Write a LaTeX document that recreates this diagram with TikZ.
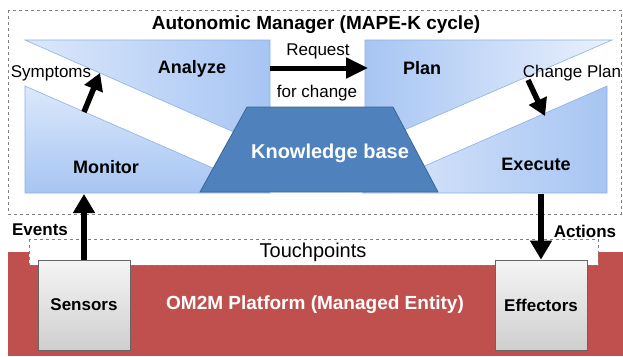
\documentclass[tikz,border=0pt]{standalone}
\usepackage{fontspec}
\setmainfont{Liberation Sans}
\usetikzlibrary{arrows.meta,shapes,calc,positioning}

\definecolor{paleblue}{HTML}{DCE8FB}
\definecolor{midblue}{HTML}{A7C5F3}
\definecolor{edgeblue}{HTML}{8EB1E0}
\definecolor{kbfill}{HTML}{4F81BD}
\definecolor{kbedge}{HTML}{3B6595}
\definecolor{platred}{HTML}{C0504D}

\tikzset{
  stage/.style={draw=edgeblue,line width=0.6pt},
  bold/.style={font=\bfseries\fontsize{18}{20}\selectfont},
  plain/.style={font=\fontsize{17}{19}\selectfont},
  bigarrow/.style={line width=6pt,-{Triangle[length=19pt,width=21pt]}},
  devicebox/.style={draw=gray!80!black,line width=0.8pt,top color=gray!8,bottom color=gray!38,
    minimum width=92pt,minimum height=90pt,inner sep=0pt,
    font=\bfseries\fontsize{17}{19}\selectfont}
}

\begin{document}
\begin{tikzpicture}[x=1pt,y=-1pt]
       \useasboundingbox (0,0) rectangle (623,356);

       % managed entity
       \fill[platred] (8,252) rectangle (623,356);
       \draw[gray,dashed,fill=white,line width=0.8pt] (29,239) rectangle (598,265);
       \node[font=\fontsize{20}{22}\selectfont] (touch) at (313,252) {Touchpoints};
       \node[bold,white,font=\bfseries\fontsize{19}{21}\selectfont] (om2m) at (315,305)
       {OM2M Platform (Managed Entity)};

       \node[devicebox] (sensors) at (84,305) {Sensors};
       \node[devicebox] (effectors) at (541,305) {Effectors};

       % autonomic manager
       \draw[gray,dashed,line width=0.8pt] (8,10) rectangle (621,214);
       \node[bold,font=\bfseries\fontsize{19}{21}\selectfont] (title) at (316,25)
       {Autonomic Manager (MAPE-K cycle)};

       \coordinate (A1) at (25,40);
       \coordinate (A2) at (270,40);
       \coordinate (A3) at (270,148);
       \coordinate (M1) at (25,86);
       \coordinate (M2) at (25,193);
       \coordinate (M3) at (270,193);
       \coordinate (P1) at (365,40);
       \coordinate (P2) at (612,40);
       \coordinate (P3) at (365,147);
       \coordinate (E1) at (607,86);
       \coordinate (E2) at (607,193);
       \coordinate (E3) at (363,193);

       \path[stage,left color=paleblue,right color=midblue] (A1) -- (A2) -- (A3) -- cycle;
       \path[stage,top color=paleblue,bottom color=midblue] (M1) -- (M2) -- (M3) -- cycle;
       \path[stage,left color=midblue,right color=paleblue!60!white] (P1) -- (P2) -- (P3) -- cycle;
       \path[stage,left color=paleblue,right color=midblue] (E1) -- (E2) -- (E3) -- cycle;

       \filldraw[fill=kbfill,draw=kbedge,line width=0.8pt]
       (247,107) -- (393,107) -- (438,192) -- (200,192) -- cycle;
       \node[bold,white,font=\bfseries\fontsize{20}{22}\selectfont] (kb) at (330,153) {Knowledge base};

       \node[bold] (analyze) at (192,69) {Analyze};
       \node[bold] (monitor) at (106,167) {Monitor};
       \node[bold] (plan) at (422,68) {Plan};
       \node[bold] (execute) at (536,164) {Execute};

       % flow between the stages
       \coordinate (RQ1) at (270,68);
       \coordinate (RQ2) at (368,68);
       \draw[line width=5pt,-{Triangle[length=22pt,width=20pt]}] (RQ1) -- (RQ2);
       \node[plain] (request) at (318,51) {Request};
       \node[plain] (forchange) at (317,93) {for change};

       \coordinate (SY1) at (84,112);
       \coordinate (SY2) at (100,73);
       \draw[line width=5.5pt,-{Triangle[length=17pt,width=19pt]}] (SY1) -- (SY2);
       \node[plain] (symptoms) at (51,73) {Symptoms};

       \coordinate (CP1) at (528,80);
       \coordinate (CP2) at (545,116);
       \draw[line width=5.5pt,-{Triangle[length=17pt,width=19pt]}] (CP1) -- (CP2);
       \node[plain] (changeplan) at (572,73) {Change Plan};

       % sensing and acting
       \coordinate (MB) at (84,194);
       \coordinate (EB) at (541,194);
       \draw[bigarrow] (sensors.north) -- (MB);
       \draw[bigarrow] (EB) -- (effectors.north);
       \node[bold,font=\bfseries\fontsize{17}{19}\selectfont] (events) at (40,230) {Events};
       \node[bold,font=\bfseries\fontsize{17}{19}\selectfont] (actions) at (585,231) {Actions};
\end{tikzpicture}
\end{document}
